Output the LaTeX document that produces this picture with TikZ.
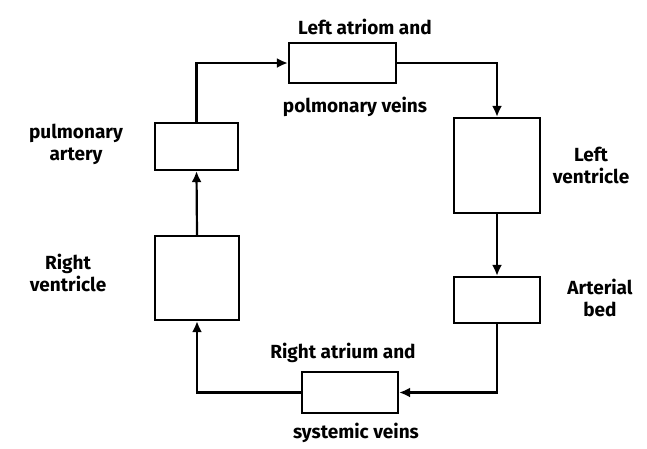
\documentclass[tikz,border=0pt]{standalone}
\usepackage{fontspec}
\setmainfont{Fira Sans}
\usetikzlibrary{arrows.meta}
\begin{document}
\begin{tikzpicture}[x=1pt,y=-1pt,
  box/.style={draw, line width=2.2pt, inner sep=0pt, minimum width=#1},
  lbl/.style={font=\fontsize{19}{22}\selectfont\bfseries, inner sep=0pt, align=center},
  conn/.style={line width=2.2pt, -{Latex[length=11pt,width=10pt]}}]
\useasboundingbox[fill=white] (0,0) rectangle (647,448);
\node[box=107pt, minimum height=40pt] (LA) at (342.5,63) {};
\node[box=86pt, minimum height=95pt] (LV) at (497,165.5) {};
\node[box=86pt, minimum height=46pt] (AB) at (497,300) {};
\node[box=96pt, minimum height=41pt] (RA) at (350,392.5) {};
\node[box=84pt, minimum height=84pt] (RV) at (197,278) {};
\node[box=83pt, minimum height=47pt] (PA) at (196.5,146.5) {};
\draw[conn] (PA.north) |- (LA.west);
\draw[conn] (LA.east) -| (LV.north);
\draw[conn] (LV.south) -- (AB.north);
\draw[conn] (AB.south) |- (RA.east);
\draw[conn] (RA.west) -| (RV.south);
\draw[conn] (RV.north) -- (PA.south);
\node[lbl] (tLA1) at (365,27) {Left atriom and};
\node[lbl] (tLA2) at (355,107) {polmonary veins};
\node[lbl] (tLV) at (591,165) {Left\\ventricle};
\node[lbl] (tAB) at (600,298) {Arterial\\bed};
\node[lbl] (tRA1) at (343,353) {Right atrium and};
\node[lbl] (tRA2) at (356,433) {systemic veins};
\node[lbl] (tRV) at (68,273) {Right\\ventricle};
\node[lbl] (tPA) at (76,144) {pulmonary\\artery};
\end{tikzpicture}
\end{document}
